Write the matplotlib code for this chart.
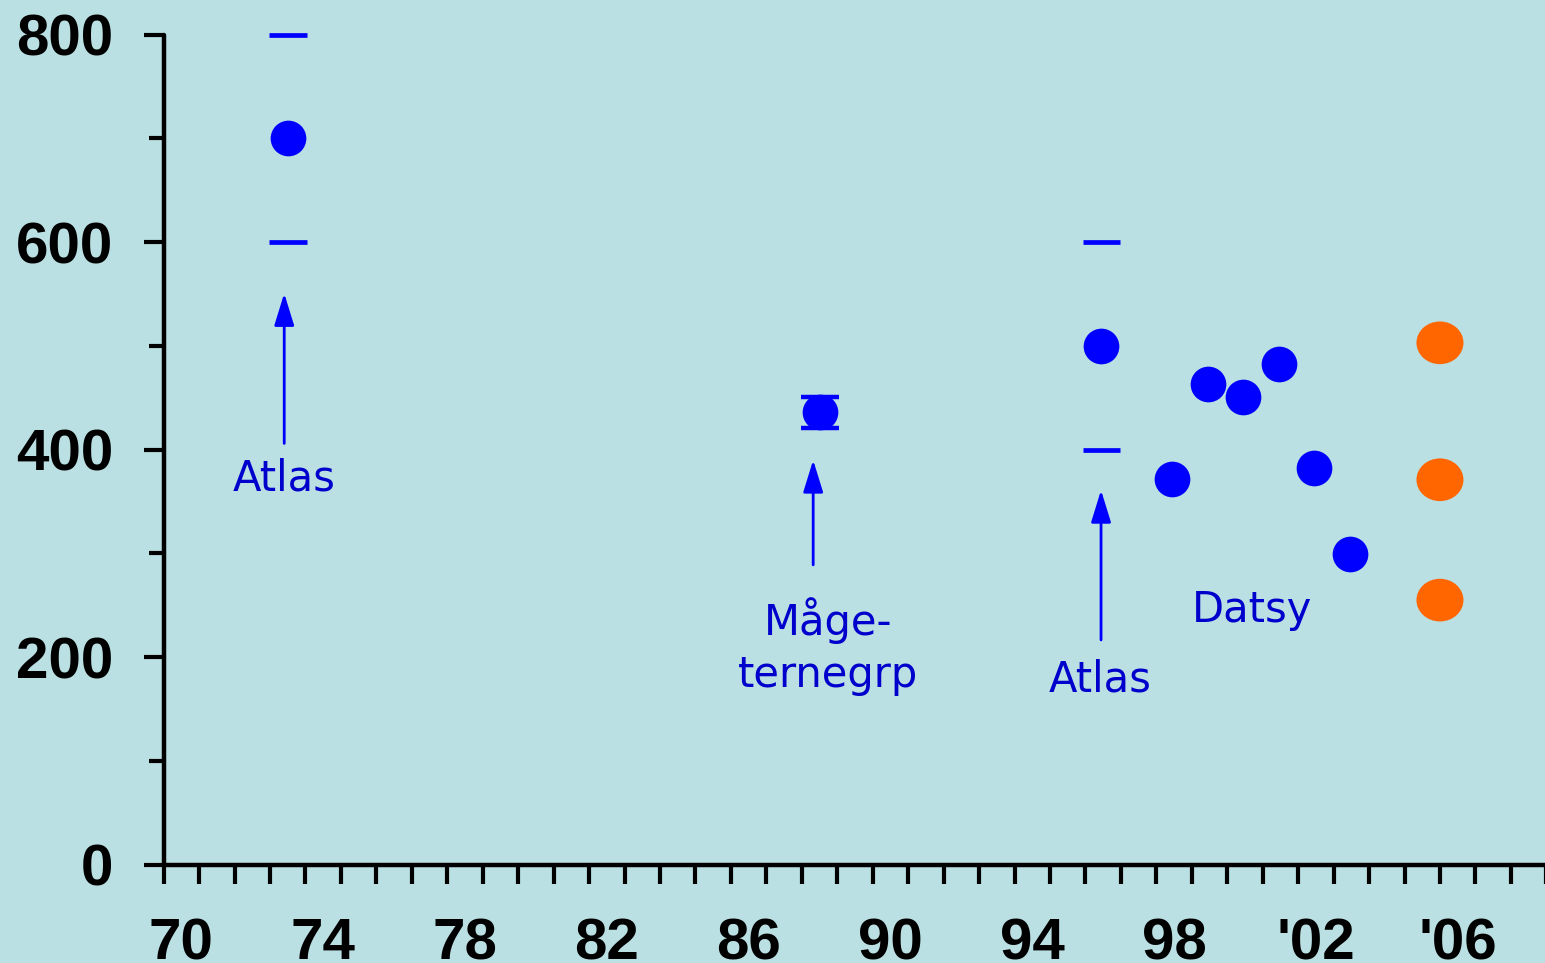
import matplotlib
matplotlib.use("Agg")
import matplotlib.pyplot as plt
from matplotlib.patches import Ellipse
from matplotlib.ticker import FixedLocator, NullFormatter

# ---- data ----
atlas_x = [1973.5, 1996.45]
atlas_y = [700, 500]
atlas_low = [600, 400]
atlas_high = [800, 600]

mage_x = [1988.5]
mage_y = [436]
mage_err = [15]

datsy_x = [1998.45, 1999.45, 2000.45, 2001.45, 2002.45, 2003.45]
datsy_y = [372, 463, 451, 483, 382, 299]

orange_x = [2006.0, 2006.0, 2006.0]
orange_y = [503, 371, 255]

xtick_labels = ["70", "74", "78", "82", "86", "90", "94", "98", "'02", "'06"]
xtick_years = [1970, 1974, 1978, 1982, 1986, 1990, 1994, 1998, 2002, 2006]
ytick_major = [0, 200, 400, 600, 800]
ytick_minor = [100, 300, 500, 700]

BG = "#bae0e3"
BLUE = "#0000ff"
TBLUE = "#0000cc"
ORANGE = "#ff6600"

fig = plt.figure(figsize=(15.45, 9.63), dpi=100, facecolor=BG)
ax = fig.add_axes([0.10595, 0.1021, 0.8949, 0.8619])
ax.set_facecolor(BG)
ax.set_xlim(1970, 2009)
ax.set_ylim(0, 800)

for s in ["top", "right"]:
    ax.spines[s].set_visible(False)
for s in ["left", "bottom"]:
    ax.spines[s].set_linewidth(3.2)
    ax.spines[s].set_color("black")
    ax.spines[s].set_capstyle("round")

# y ticks
ax.yaxis.set_major_locator(FixedLocator(ytick_major))
ax.yaxis.set_minor_locator(FixedLocator(ytick_minor))
ax.tick_params(axis="y", which="major", length=14.5, width=3.0, direction="out",
               pad=22, labelsize=42)
ax.tick_params(axis="y", which="minor", length=11, width=3.0, direction="out")

# x ticks: minor ticks at each year, labels centred between ticks
ax.xaxis.set_minor_locator(FixedLocator(list(range(1970, 2010))))
ax.xaxis.set_major_locator(FixedLocator([y + 0.5 for y in xtick_years]))
ax.set_xticklabels(xtick_labels)
ax.xaxis.set_minor_formatter(NullFormatter())
ax.tick_params(axis="x", which="minor", length=14, width=3.0, direction="out")
ax.tick_params(axis="x", which="major", length=0, pad=38, labelsize=42)

for lab in ax.get_xticklabels() + ax.get_yticklabels():
    lab.set_fontfamily("Liberation Sans")
    lab.set_fontweight("bold")

# Atlas range dashes
ax.hlines(atlas_low, [x - 0.53 for x in atlas_x], [x + 0.53 for x in atlas_x],
          colors=BLUE, lw=3.4, clip_on=False)
ax.hlines(atlas_high, [x - 0.53 for x in atlas_x], [x + 0.53 for x in atlas_x],
          colors=BLUE, lw=3.4, clip_on=False)

# markers
ax.plot(atlas_x, atlas_y, "o", color=BLUE, ms=25.7, mec="none")
ax.errorbar(mage_x, mage_y, yerr=mage_err, fmt="o", color=BLUE, ms=25.7,
            mec="none", capsize=13.7, capthick=3.2, elinewidth=3)
ax.plot(datsy_x, datsy_y, "o", color=BLUE, ms=25.7, mec="none")
for x, y in zip(orange_x, orange_y):
    ax.add_patch(Ellipse((x, y), width=47 / 35.45, height=42.7 / 1.0375,
                         facecolor=ORANGE, edgecolor="none"))

# arrows
arrow_kw = dict(arrowstyle="-|>,head_length=0.55,head_width=0.17",
                color=BLUE, lw=2.0, shrinkA=0, shrinkB=0, mutation_scale=36)
ax.annotate("", xy=(1973.4, 550.7), xytext=(1973.4, 406), arrowprops=arrow_kw)
ax.annotate("", xy=(1988.32, 390), xytext=(1988.32, 289), arrowprops=arrow_kw)
ax.annotate("", xy=(1996.44, 361), xytext=(1996.44, 216.6), arrowprops=arrow_kw)

# labels
tkw = dict(color=TBLUE, fontsize=30, fontfamily="DejaVu Sans",
           ha="center", va="baseline")
ax.text(1973.39, 360.5, "Atlas", **tkw)
ax.text(1988.73, 221.4, "Måge-", **tkw)
ax.text(1988.73, 171.3, "ternegrp", **tkw)
ax.text(1996.42, 166.7, "Atlas", **tkw)
ax.text(2000.7, 234.2, "Datsy", **tkw)

fig.savefig("out.png", dpi=100, facecolor=BG)
